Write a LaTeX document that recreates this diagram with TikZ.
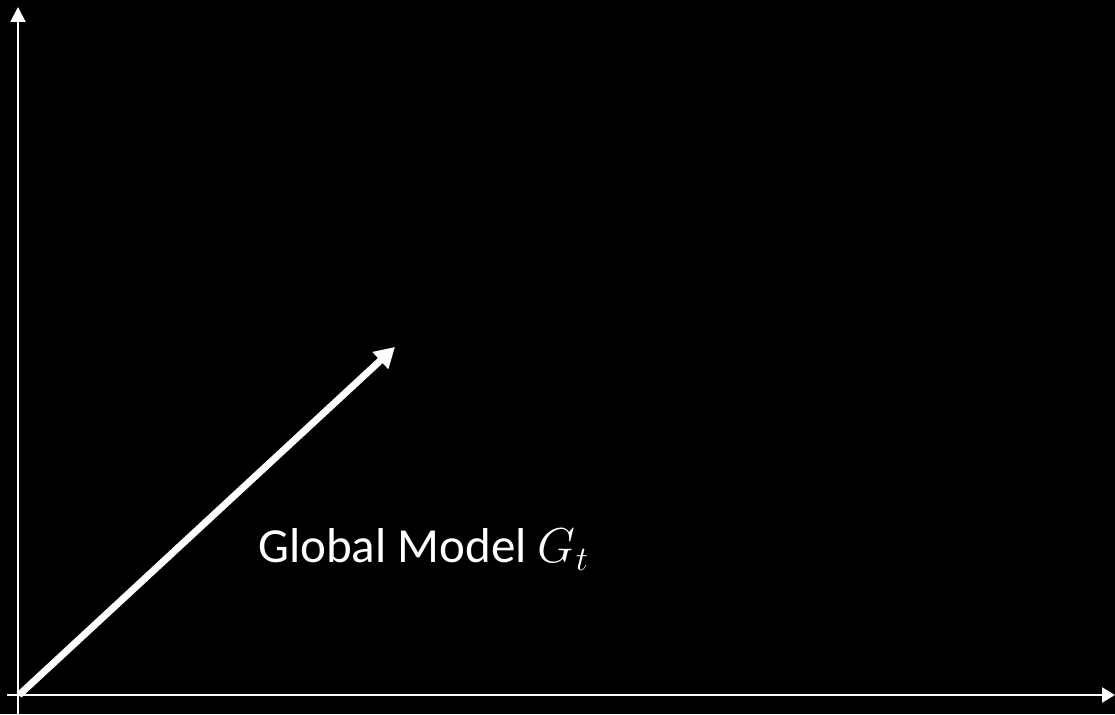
\documentclass[tikz,border=0pt]{standalone}
\usepackage{fix-cm}
\usepackage{fontspec}
\setmainfont{Carlito}
\usepackage{tikz}
\usetikzlibrary{arrows.meta}

\begin{document}
\begin{tikzpicture}[x=1pt, y=1pt]
	\useasboundingbox (0,0) rectangle (1115,714);
	\fill[black] (0,0) rectangle (1115,714);
	\coordinate (O) at (19,19);
	\coordinate (xstart) at (7,19);
	\coordinate (xend) at (1115,19);
	\coordinate (ystart) at (18,0);
	\coordinate (yend) at (18,707);
	\coordinate (gt) at (395,367);
	\draw[white, line width=2pt, -{Triangle[length=13pt, width=15pt]}] (xstart) -- (xend);
	\draw[white, line width=2pt, -{Triangle[length=15pt, width=15pt]}] (ystart) -- (yend);
	\draw[white, line width=7pt, -{Triangle[length=20pt, width=22pt]}] (O) -- (gt);
	\node[white, anchor=base west, inner sep=0pt, font=\fontsize{49}{58}\selectfont] (label) at (258,151) {Global Model $G_t$};
\end{tikzpicture}
\end{document}
